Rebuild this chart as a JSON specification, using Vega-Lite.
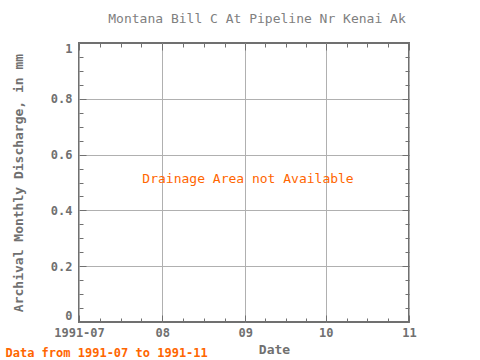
{
  "$schema": "https://vega.github.io/schema/vega-lite/v6.json",
  "width": 330,
  "height": 279,
  "autosize": {"type": "none"},
  "padding": {"left": 79, "top": 43, "right": 71, "bottom": 38},
  "title": {
    "text": "Montana Bill C At Pipeline Nr Kenai Ak",
    "anchor": "middle",
    "frame": "group",
    "dx": 13,
    "offset": 16,
    "font": "DejaVu Sans Mono",
    "fontSize": 13,
    "fontWeight": "normal",
    "color": "#808080"
  },
  "config": {
    "view": {"stroke": "#707070", "strokeWidth": 2},
    "font": "DejaVu Sans Mono"
  },
  "data": {
    "values": [
      {"date": "1991-09-02T00:00:00", "discharge": 0.5, "note": "Drainage Area not Available"}
    ]
  },
  "layer": [
    {
      "mark": {"type": "text", "color": "#FF6600", "fontSize": 13, "font": "DejaVu Sans Mono", "baseline": "alphabetic", "align": "center"},
      "encoding": {
        "x": {
          "field": "date",
          "type": "temporal",
          "scale": {"domain": [{"year": 1991, "month": 7, "date": 1}, {"year": 1991, "month": 11, "date": 1}], "nice": false},
          "axis": {
            "orient": "bottom",
            "values": [
              {"year": 1991, "month": 7, "date": 1},
              {"year": 1991, "month": 7, "date": 8, "hours": 18},
              {"year": 1991, "month": 7, "date": 16, "hours": 12},
              {"year": 1991, "month": 7, "date": 24, "hours": 6},
              {"year": 1991, "month": 8, "date": 1},
              {"year": 1991, "month": 8, "date": 8, "hours": 18},
              {"year": 1991, "month": 8, "date": 16, "hours": 12},
              {"year": 1991, "month": 8, "date": 24, "hours": 6},
              {"year": 1991, "month": 9, "date": 1},
              {"year": 1991, "month": 9, "date": 8, "hours": 12},
              {"year": 1991, "month": 9, "date": 16},
              {"year": 1991, "month": 9, "date": 23, "hours": 12},
              {"year": 1991, "month": 10, "date": 1},
              {"year": 1991, "month": 10, "date": 8, "hours": 18},
              {"year": 1991, "month": 10, "date": 16, "hours": 12},
              {"year": 1991, "month": 10, "date": 24, "hours": 6},
              {"year": 1991, "month": 11, "date": 1}
            ],
            "labelExpr": "date(datum.value) == 1 && hours(datum.value) == 0 ? (month(datum.value) == 6 ? timeFormat(datum.value, '%Y-%m') : timeFormat(datum.value, '%m')) : ''",
            "title": "Date",
            "titleX": 195,
            "titleY": 31,
            "titleBaseline": "alphabetic",
            "titleAlign": "center",
            "titleFont": "DejaVu Sans Mono",
            "titleFontSize": 13,
            "titleFontWeight": "bold",
            "titleColor": "#707070",
            "labelFont": "DejaVu Sans Mono",
            "labelFontSize": 12,
            "labelFontWeight": "bold",
            "labelColor": "#707070",
            "labelPadding": 12,
            "labelFlush": false,
            "labelOverlap": false,
            "labelBaseline": "top",
            "tickColor": "#707070",
            "tickWidth": 1,
            "tickSize": {"condition": {"test": "date(datum.value) == 1 && hours(datum.value) == 0", "value": -7}, "value": -4},
            "grid": true,
            "gridColor": "#b0b0b0",
            "gridWidth": 1,
            "gridOpacity": {"condition": {"test": "date(datum.value) == 1 && hours(datum.value) == 0", "value": 1}, "value": 0},
            "domain": false
          }
        },
        "y": {
          "field": "discharge",
          "type": "quantitative",
          "scale": {"domain": [0, 1], "nice": false, "zero": false},
          "axis": {
            "orient": "left",
            "values": [0, 0.05, 0.1, 0.15, 0.2, 0.25, 0.3, 0.35, 0.4, 0.45, 0.5, 0.55, 0.6, 0.65, 0.7, 0.75, 0.8, 0.85, 0.9, 0.95, 1],
            "labelExpr": "abs(datum.value * 5 - round(datum.value * 5)) < 0.001 ? format(datum.value, '~g') : ''",
            "title": "Archival Monthly Discharge, in mm",
            "titleX": -57,
            "titleY": 139.5,
            "titleAngle": 270,
            "titleAlign": "center",
            "titleBaseline": "alphabetic",
            "titleFont": "DejaVu Sans Mono",
            "titleFontSize": 13,
            "titleFontWeight": "bold",
            "titleColor": "#707070",
            "labelFont": "DejaVu Sans Mono",
            "labelFontSize": 12,
            "labelFontWeight": "bold",
            "labelColor": "#707070",
            "labelPadding": 14,
            "labelFlush": true,
            "labelOverlap": false,
            "tickColor": "#707070",
            "tickWidth": 1,
            "tickSize": {"condition": {"test": "abs(datum.value * 5 - round(datum.value * 5)) < 0.001", "value": -7}, "value": -4},
            "grid": true,
            "gridColor": "#b0b0b0",
            "gridWidth": 1,
            "gridOpacity": {"condition": {"test": "abs(datum.value * 5 - round(datum.value * 5)) < 0.001 && datum.value > 0 && datum.value < 1", "value": 1}, "value": 0},
            "domain": false
          }
        },
        "text": {"field": "note"}
      }
    },
    {
      "mark": {"type": "point", "opacity": 0},
      "encoding": {
        "x": {
          "field": "date",
          "type": "temporal",
          "axis": {
            "orient": "top",
            "values": [
              {"year": 1991, "month": 7, "date": 1},
              {"year": 1991, "month": 7, "date": 8, "hours": 18},
              {"year": 1991, "month": 7, "date": 16, "hours": 12},
              {"year": 1991, "month": 7, "date": 24, "hours": 6},
              {"year": 1991, "month": 8, "date": 1},
              {"year": 1991, "month": 8, "date": 8, "hours": 18},
              {"year": 1991, "month": 8, "date": 16, "hours": 12},
              {"year": 1991, "month": 8, "date": 24, "hours": 6},
              {"year": 1991, "month": 9, "date": 1},
              {"year": 1991, "month": 9, "date": 8, "hours": 12},
              {"year": 1991, "month": 9, "date": 16},
              {"year": 1991, "month": 9, "date": 23, "hours": 12},
              {"year": 1991, "month": 10, "date": 1},
              {"year": 1991, "month": 10, "date": 8, "hours": 18},
              {"year": 1991, "month": 10, "date": 16, "hours": 12},
              {"year": 1991, "month": 10, "date": 24, "hours": 6},
              {"year": 1991, "month": 11, "date": 1}
            ],
            "labels": false,
            "grid": false,
            "domain": false,
            "tickColor": "#707070",
            "tickWidth": 1,
            "tickSize": {"condition": {"test": "date(datum.value) == 1 && hours(datum.value) == 0", "value": -7}, "value": -4},
            "title": "Data from 1991-07 to 1991-11",
            "titleX": -74,
            "titleY": 313,
            "titleAlign": "left",
            "titleAngle": 0,
            "titleBaseline": "alphabetic",
            "titleFont": "DejaVu Sans Mono",
            "titleFontSize": 12,
            "titleFontWeight": "bold",
            "titleColor": "#FF6600"
          }
        },
        "y": {
          "field": "discharge",
          "type": "quantitative",
          "axis": {
            "orient": "right",
            "values": [0, 0.05, 0.1, 0.15, 0.2, 0.25, 0.3, 0.35, 0.4, 0.45, 0.5, 0.55, 0.6, 0.65, 0.7, 0.75, 0.8, 0.85, 0.9, 0.95, 1],
            "labels": false,
            "grid": false,
            "domain": false,
            "title": null,
            "tickColor": "#707070",
            "tickWidth": 1,
            "tickSize": {"condition": {"test": "abs(datum.value * 5 - round(datum.value * 5)) < 0.001", "value": -7}, "value": -4}
          }
        }
      }
    }
  ],
  "resolve": {"axis": {"x": "independent", "y": "independent"}}
}
